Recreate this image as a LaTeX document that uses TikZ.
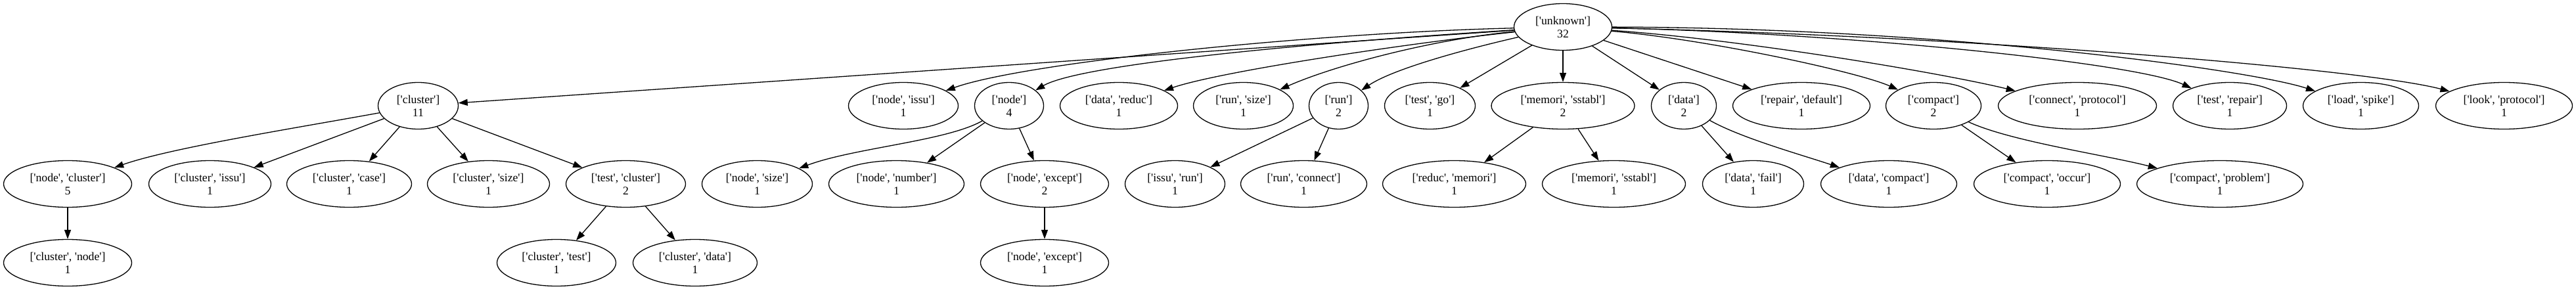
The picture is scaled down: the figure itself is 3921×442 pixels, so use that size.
\documentclass[tikz,border=0pt]{standalone}
\usepackage{fontspec}
\setmainfont{Liberation Serif}[Ligatures=TeXOff]
\usetikzlibrary{shapes.geometric,arrows.meta}
\begin{document}
\begin{tikzpicture}[x=1pt,y=-1pt,
  gv/.style={ellipse,draw,line width=1.3pt,inner sep=0pt,minimum height=71pt,align=center,font=\fontsize{17.7}{20}\selectfont},
  edge/.style={line width=1.3pt,-{Triangle[length=14pt,width=10pt]}}]
\useasboundingbox[fill=white] (0,0) rectangle (3921,442);
% row 1
\node[gv,minimum width=149pt] (unk) at (2379,41) {['unknown']\\32};
% row 2
\node[gv,minimum width=122pt] (clu) at (636.5,161) {['cluster']\\11};
\node[gv,minimum width=167pt] (nis) at (1375,161) {['node', 'issu']\\1};
\node[gv,minimum width=105pt] (nod) at (1536,161) {['node']\\4};
\node[gv,minimum width=179pt] (dre) at (1703,161) {['data', 'reduc']\\1};
\node[gv,minimum width=152pt] (rsz) at (1892.5,161) {['run', 'size']\\1};
\node[gv,minimum width=90pt] (run) at (2037.5,161) {['run']\\2};
\node[gv,minimum width=138pt] (tgo) at (2176.5,161) {['test', 'go']\\1};
\node[gv,minimum width=218pt] (mss) at (2379,161) {['memori', 'sstabl']\\2};
\node[gv,minimum width=99pt] (dat) at (2563,161) {['data']\\2};
\node[gv,minimum width=209pt] (rdf) at (2742,161) {['repair', 'default']\\1};
\node[gv,minimum width=145pt] (cmp) at (2943,161) {['compact']\\2};
\node[gv,minimum width=241pt] (cpr) at (3162,161) {['connect', 'protocol']\\1};
\node[gv,minimum width=173pt] (trp) at (3394,161) {['test', 'repair']\\1};
\node[gv,minimum width=176pt] (lsp) at (3593.5,161) {['load', 'spike']\\1};
\node[gv,minimum width=208pt] (lpr) at (3811.5,161) {['look', 'protocol']\\1};
% row 3
\node[gv,minimum width=195pt] (ncl) at (103,280) {['node', 'cluster']\\5};
\node[gv,minimum width=186pt] (cis) at (319.5,280) {['cluster', 'issu']\\1};
\node[gv,minimum width=190pt] (cca) at (531.5,280) {['cluster', 'case']\\1};
\node[gv,minimum width=186pt] (csz) at (743.5,280) {['cluster', 'size']\\1};
\node[gv,minimum width=182pt] (tcl) at (952.5,280) {['test', 'cluster']\\2};
\node[gv,minimum width=168pt] (nsz) at (1152.5,280) {['node', 'size']\\1};
\node[gv,minimum width=206pt] (nnu) at (1364.5,280) {['node', 'number']\\1};
\node[gv,minimum width=195pt] (nex) at (1590,280) {['node', 'except']\\2};
\node[gv,minimum width=152pt] (iru) at (1788.5,280) {['issu', 'run']\\1};
\node[gv,minimum width=192pt] (rco) at (1984.5,280) {['run', 'connect']\\1};
\node[gv,minimum width=218pt] (rme) at (2213.5,280) {['reduc', 'memori']\\1};
\node[gv,minimum width=218pt] (msb) at (2456.5,280) {['memori', 'sstabl']\\1};
\node[gv,minimum width=154pt] (dfa) at (2668.5,280) {['data', 'fail']\\1};
\node[gv,minimum width=207pt] (dco) at (2875,280) {['data', 'compact']\\1};
\node[gv,minimum width=223pt] (coc) at (3116,280) {['compact', 'occur']\\1};
\node[gv,minimum width=253pt] (cpb) at (3379,280) {['compact', 'problem']\\1};
% row 4
\node[gv,minimum width=195pt] (cno) at (103,400) {['cluster', 'node']\\1};
\node[gv,minimum width=181pt] (cte) at (847,400) {['cluster', 'test']\\1};
\node[gv,minimum width=189pt] (cda) at (1058,400) {['cluster', 'data']\\1};
\node[gv,minimum width=195pt] (nxx) at (1590,400) {['node', 'except']\\1};
% edges from root
\draw[edge] (unk) -- (clu);
\draw[edge] (unk) .. controls (2000,50) and (1560,95) .. (nis);
\draw[edge] (unk) .. controls (1950,68) and (1640,100) .. (nod);
\draw[edge] (unk) .. controls (2150,65) and (1860,108) .. (dre);
\draw[edge] (unk) .. controls (2180,60) and (2030,100) .. (rsz);
\draw[edge] (unk) .. controls (2230,75) and (2120,105) .. (run);
\draw[edge] (unk) -- (tgo);
\draw[edge] (unk) -- (mss);
\draw[edge] (unk) -- (dat);
\draw[edge] (unk) -- (rdf);
\draw[edge] (unk) .. controls (2600,60) and (2830,110) .. (cmp);
\draw[edge] (unk) .. controls (2650,60) and (2950,110) .. (cpr);
\draw[edge] (unk) .. controls (2800,50) and (3250,95) .. (trp);
\draw[edge] (unk) .. controls (2950,42) and (3420,105) .. (lsp);
\draw[edge] (unk) .. controls (3000,55) and (3600,105) .. (lpr);
% second level
\draw[edge] (clu) .. controls (450,195) and (260,225) .. (ncl);
\draw[edge] (clu) -- (cis);
\draw[edge] (clu) -- (cca);
\draw[edge] (clu) -- (csz);
\draw[edge] (clu) -- (tcl);
\draw[edge] (ncl) -- (cno);
\draw[edge] (tcl) -- (cte);
\draw[edge] (tcl) -- (cda);
\draw[edge] (nod) .. controls (1440,215) and (1300,225) .. (nsz);
\draw[edge] (nod) -- (nnu);
\draw[edge] (nod) -- (nex);
\draw[edge] (nex) -- (nxx);
\draw[edge] (run) -- (iru);
\draw[edge] (run) -- (rco);
\draw[edge] (mss) -- (rme);
\draw[edge] (mss) -- (msb);
\draw[edge] (dat) -- (dfa);
\draw[edge] (dat) .. controls (2650,210) and (2740,235) .. (dco);
\draw[edge] (cmp) -- (coc);
\draw[edge] (cmp) .. controls (3060,215) and (3200,235) .. (cpb);
\end{tikzpicture}
\end{document}
